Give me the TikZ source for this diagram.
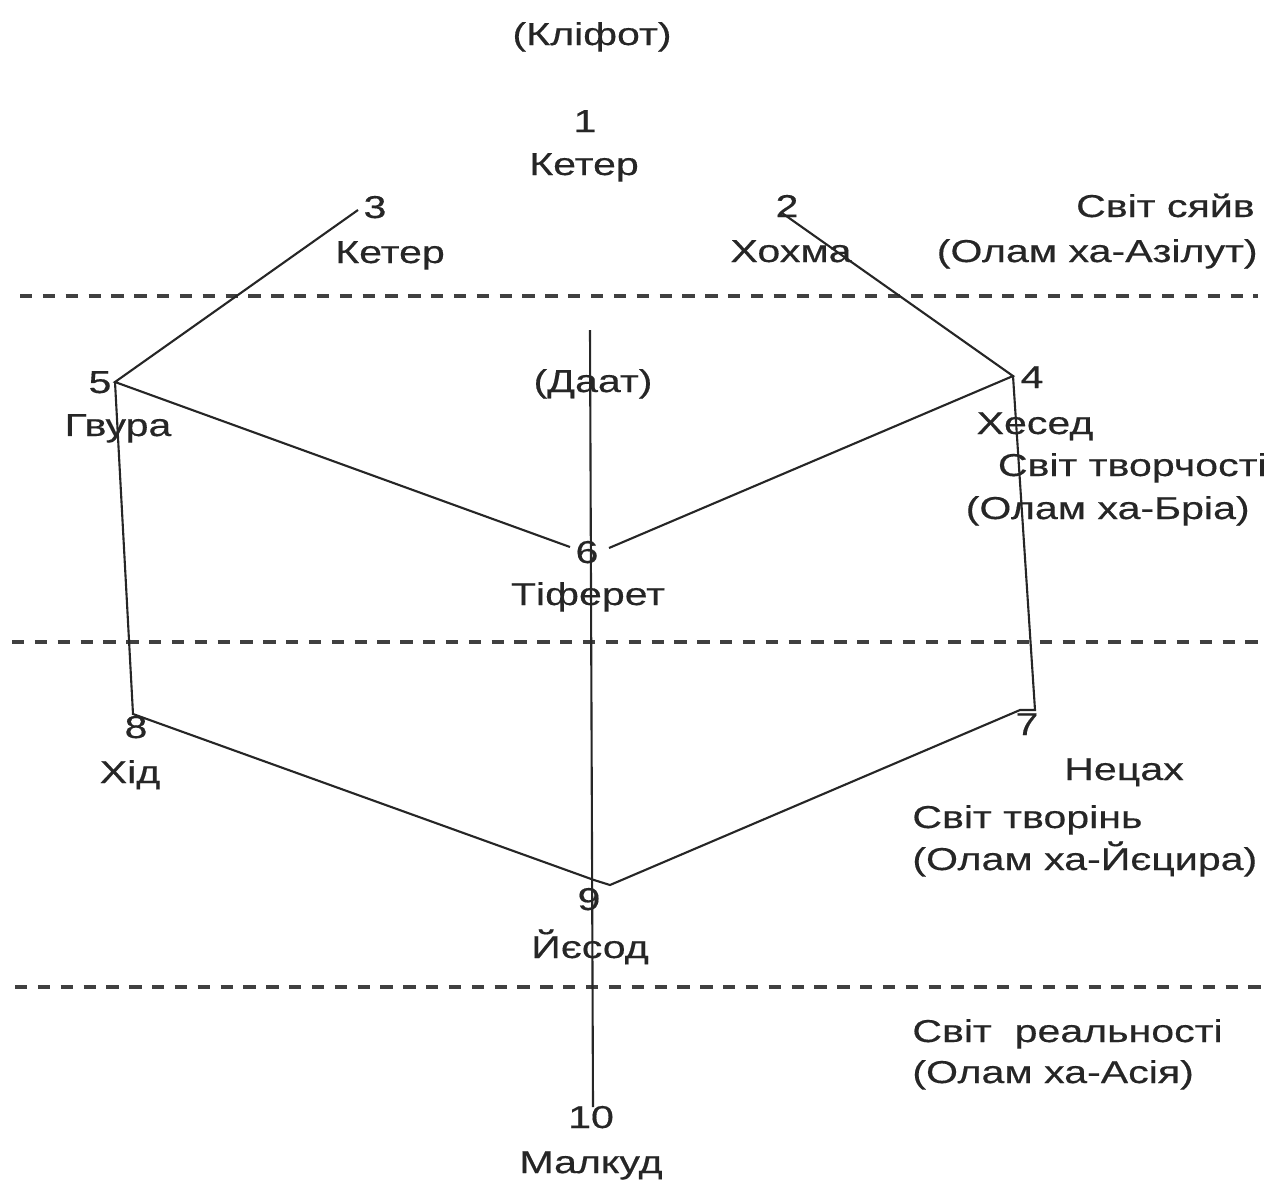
\documentclass[tikz,border=0pt]{standalone}
\usepackage{fontspec}
\setmainfont[FakeStretch=1.3,FakeBold=0.4]{Liberation Sans}
\usepackage{tikz}
\usetikzlibrary{positioning}

\begin{document}
\begin{tikzpicture}[x=0.02cm,y=-0.02cm,
    font=\fontsize{18}{21}\selectfont,
    lbl/.style={anchor=base,inner sep=0pt,text=black!85},
    worldr/.style={anchor=base east,inner sep=0pt,text=black!85},
    worldl/.style={anchor=base west,inner sep=0pt,text=black!85},
    branch/.style={-,line width=1.2pt,black!85},
    sep line/.style={-,line width=1.8pt,black!75,dash pattern=on 7pt off 6pt}]
  \useasboundingbox (0,0) rectangle (1277,1180);
  \begin{scope}
    % points where the lines meet
    \coordinate (v3) at (358,210);
    \coordinate (v2) at (782,213);
    \coordinate (v5) at (115,382);
    \coordinate (v4) at (1013,376);
    \coordinate (v6l) at (570,547);
    \coordinate (v6r) at (609,548);
    \coordinate (v8) at (133,714);
    \coordinate (v9) at (594,880);
    \coordinate (v9b) at (610,885);
    \coordinate (v7a) at (1020,710);
    \coordinate (v7) at (1035,710);
    \coordinate (axtop) at (590,330);
    \coordinate (axbot) at (593,1107);
    \coordinate (d1a) at (20,296);  \coordinate (d1b) at (1258,296);
    \coordinate (d2a) at (12,642);  \coordinate (d2b) at (1258,642);
    \coordinate (d3a) at (15,987);  \coordinate (d3b) at (1268,987);

    \node[lbl] (klifot) at (592,45) {(Кліфот)};
    \node[lbl] (n1) at (585,132) {1};
    \node[lbl] (keter1) at (584,175) {Кетер};
    \node[lbl] (n3) at (375,218) {3};
    \node[lbl] (keter3) at (390,263) {Кетер};
    \node[lbl] (n2) at (787,217) {2};
    \node[lbl] (hokhma) at (791,262) {Хохма};
    \node[worldr] (w1a) at (1255,217) {Світ сяйв};
    \node[worldr] (w1b) at (1258,262) {(Олам ха-Азілут)};
    \node[lbl] (n5) at (100,393) {5};
    \node[lbl] (gvura) at (118,436) {Гвура};
    \node[lbl] (daat) at (593,392) {(Даат)};
    \node[lbl] (n4) at (1032,388) {4};
    \node[lbl] (hesed) at (1035,434) {Хесед};
    \node[worldr] (w2a) at (1267,476) {Світ творчості};
    \node[worldr] (w2b) at (1250,519) {(Олам ха-Бріа)};
    \node[lbl] (n6) at (587,563) {6};
    \node[lbl] (tiferet) at (588,605) {Тіферет};
    \node[lbl] (n8) at (136,738) {8};
    \node[lbl] (khid) at (130,783) {Хід};
    \node[lbl] (n7) at (1027,735) {7};
    \node[lbl] (netsakh) at (1124,780) {Нецах};
    \node[worldl] (w3a) at (912,828) {Світ творінь};
    \node[worldl] (w3b) at (912,870) {(Олам ха-Йєцира)};
    \node[lbl] (n9) at (589,910) {9};
    \node[lbl] (iesod) at (590,958) {Йєсод};
    \node[worldl] (w4a) at (912,1042) {Світ~~реальності};
    \node[worldl] (w4b) at (912,1083) {(Олам ха-Асія)};
    \node[lbl] (n10) at (591,1128) {10};
    \node[lbl] (malkud) at (591,1173) {Малкуд};

    \path[sep line] (d1a) edge (d1b);
    \path[sep line] (d2a) edge (d2b);
    \path[sep line] (d3a) edge (d3b);

    \draw[branch] (axtop) -- (axbot);
    \draw[branch] (v3) -- (v5) -- (v6l);
    \draw[branch] (v5) -- (v8) -- (v9) -- (v9b) -- (v7a) -- (v7) -- (v4);
    \draw[branch] (v2) -- (v4) -- (v6r);
  \end{scope}
\end{tikzpicture}
\end{document}
